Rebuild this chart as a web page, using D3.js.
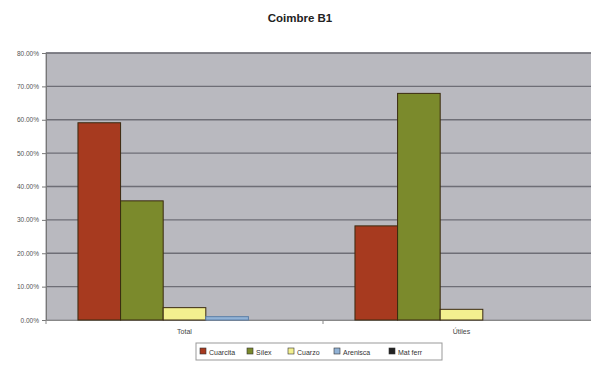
<!DOCTYPE html>
<html>
<head>
<meta charset="utf-8">
<script src="https://cdn.jsdelivr.net/npm/d3@7"></script>
<style>
  html, body { margin: 0; padding: 0; background: #fff; }
  svg { display: block; font-family: Arial, "Liberation Sans", sans-serif; }
</style>
</head>
<body>
<svg id="chart" width="591" height="366"></svg>
<script>
// Composition of the Coimbre B1 assemblage, by raw material
const categories = ["Total", "Útiles"];
const seriesNames = ["Cuarcita", "Sílex", "Cuarzo", "Arenisca", "Mat ferr"];
const cuarcita = [59.1, 28.2];
const silex = [35.7, 67.9];
const cuarzo = [3.7, 3.2];
const arenisca = [1.0, 0];
const matFerr = [0, 0];
const yTicks = [0, 10, 20, 30, 40, 50, 60, 70, 80];

const values = [cuarcita, silex, cuarzo, arenisca, matFerr];
const fills = ["#a73a1f", "#7b8a2c", "#f3f08f", "#92b3d6", "#222222"];

const svg = d3.select("#chart");
const margin = { left: 46, right: -9, top: 53, bottom: 46 };
const W = 591, H = 366;
const x0 = margin.left, x1 = W - margin.right;
const yTop = margin.top, yBot = H - margin.bottom;

const x = d3.scaleBand().domain(categories).range([x0, x1]).paddingInner(0).paddingOuter(0);
// Excel-style gap width of 150% between groups
const xs = d3.scaleBand().domain(seriesNames).range([0, x.bandwidth()])
  .paddingInner(0).paddingOuter(0.75);
const y = d3.scaleLinear().domain([0, 80]).range([yBot, yTop]);

// Title
svg.append("text").attr("x", 300).attr("y", 22).attr("text-anchor", "middle")
  .attr("font-size", 11.5).attr("font-weight", "bold").attr("fill", "#222")
  .text("Coimbre B1");

// Plot area
svg.append("rect").attr("x", x0).attr("y", yTop).attr("width", x1 - x0).attr("height", yBot - yTop)
  .attr("fill", "#b9b9bf").attr("stroke", "#8e8e94").attr("stroke-width", 1);

// Gridlines
svg.append("g").selectAll("line").data(yTicks.filter(t => t > 0)).join("line")
  .attr("x1", x0).attr("x2", x1)
  .attr("y1", d => y(d)).attr("y2", d => y(d))
  .attr("stroke", "#6e6e76").attr("stroke-width", 1.4);

// Y axis
const yAxis = d3.axisLeft(y).tickValues(yTicks).tickSize(4)
  .tickFormat(d => d3.format(".2f")(d) + "%");
const gy = svg.append("g").attr("transform", `translate(${x0},0)`).call(yAxis);
gy.select(".domain").attr("stroke", "#777");
gy.selectAll(".tick line").attr("stroke", "#777");
gy.selectAll(".tick text").attr("font-size", 6.5).attr("fill", "#555").attr("font-family", "Arial, 'Liberation Sans', sans-serif");

// X axis
const xAxis = d3.axisBottom(x).tickSize(0).tickPadding(9);
const gx = svg.append("g").attr("transform", `translate(0,${yBot})`).call(xAxis);
gx.select(".domain").attr("stroke", "#888");
gx.selectAll(".tick text").attr("font-size", 7).attr("fill", "#444").attr("font-family", "Arial, 'Liberation Sans', sans-serif");
// Category boundary tick marks
svg.append("g").selectAll("line").data(categories).join("line")
  .attr("x1", d => x(d)).attr("x2", d => x(d))
  .attr("y1", yBot).attr("y2", yBot + 4).attr("stroke", "#888");

// Bars
const groups = svg.append("g").selectAll("g").data(categories).join("g")
  .attr("transform", d => `translate(${x(d)},0)`);
groups.selectAll("rect")
  .data((c, ci) => seriesNames.map((s, si) => ({ s, si, v: values[si][ci] })))
  .join("rect")
  .filter(d => d.v > 0)
  .attr("x", d => xs(d.s))
  .attr("width", xs.bandwidth())
  .attr("y", d => y(d.v))
  .attr("height", d => y(0) - y(d.v))
  .attr("fill", d => fills[d.si])
  .attr("stroke", d => d.si === 3 ? "#5c7fa8" : "#3a2a10")
  .attr("stroke-width", 1);

// Legend
const lg = svg.append("g");
lg.append("rect").attr("x", 196).attr("y", 343).attr("width", 246).attr("height", 17)
  .attr("fill", "#fff").attr("stroke", "#999");
const legendX = [200, 247, 288, 334, 389];
seriesNames.forEach((s, i) => {
  lg.append("rect").attr("x", legendX[i]).attr("y", 348).attr("width", 6).attr("height", 6)
    .attr("fill", fills[i]).attr("stroke", "#333").attr("stroke-width", 0.6);
  lg.append("text").attr("x", legendX[i] + 9).attr("y", 354.5)
    .attr("font-size", 7).attr("fill", "#333").text(s);
});
</script>
</body>
</html>
